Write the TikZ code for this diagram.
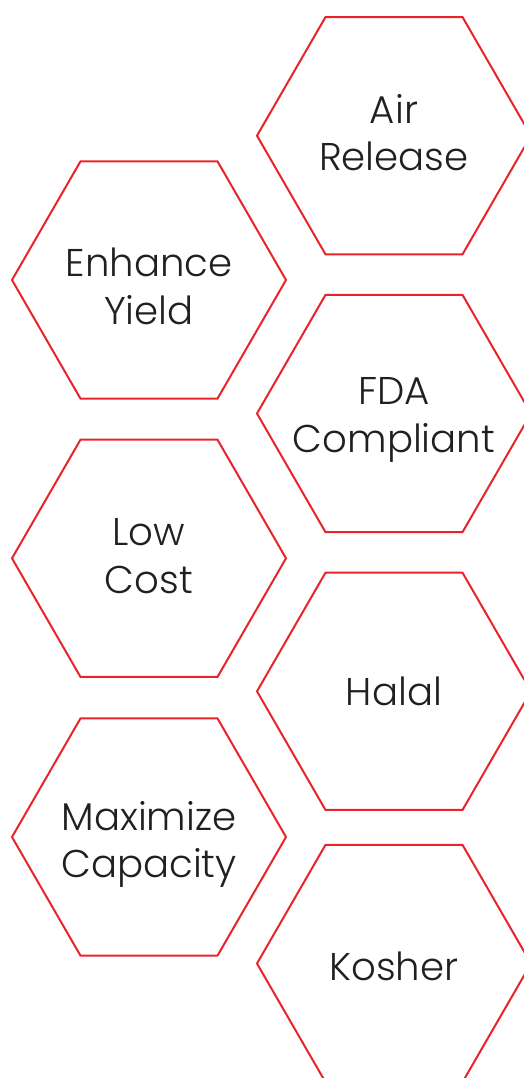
\documentclass[tikz,border=0pt]{standalone}
\usepackage{fontspec}
\setmainfont{Poppins}[UprightFont=* Light]
\usepackage{tikz}
\usepackage{xcolor}
\usetikzlibrary{shapes.geometric, positioning}
\definecolor{hexred}{RGB}{232,36,42}
\definecolor{inkgray}{RGB}{35,31,32}

\begin{document}
\begin{tikzpicture}[x=0.75pt, y=-0.75pt,
    hexcell/.style={regular polygon, regular polygon sides=6, minimum size=205.5pt,
        inner sep=0pt, draw=hexred, line width=1.5pt},
    hexlabel/.style={text=inkgray, align=center, inner sep=0pt,
        font=\fontsize{29}{35.8}\selectfont}]
    \useasboundingbox (0,0) rectangle (524,1078);
    \clip (0,0) rectangle (524,1078);

    % right column
    \node[hexcell] (airrelhex) at (394, 135.7) {};
    \node[hexcell] (fdahex) at (394, 413.5) {};
    \node[hexcell] (halalhex) at (394, 691.3) {};
    \node[hexcell] (kosherhex) at (394, 963.5) {};

    % left column
    \node[hexcell] (yieldhex) at (149, 280) {};
    \node[hexcell] (costhex) at (149, 558.3) {};
    \node[hexcell] (capacityhex) at (149, 837) {};

    % labels
    \node[hexlabel] (airrel) at (394, 132.7) {Air\\Release};
    \node[hexlabel] (fda) at (394, 420) {FDA\\Compliant};
    \node[hexlabel] (halal) at (394, 691.8) {Halal};
    \node[hexlabel] (kosher) at (394, 966) {Kosher};
    \node[hexlabel] (yield) at (149, 286) {Enhance\\Yield};
    \node[hexlabel] (cost) at (149, 556) {Low\\Cost};
    \node[hexlabel] (capacity) at (149, 844.5) {Maximize\\Capacity};
\end{tikzpicture}
\end{document}
